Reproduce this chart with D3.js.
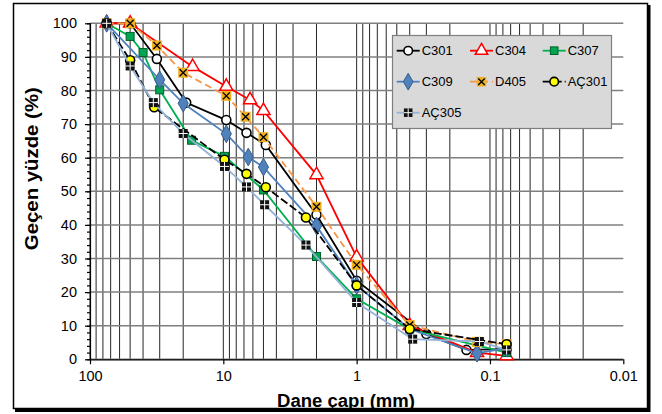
<!DOCTYPE html>
<html><head><meta charset="utf-8">
<script src="https://cdn.jsdelivr.net/npm/d3@7"></script>
<style>
body{margin:0;background:#fff;}
svg{display:block;font-family:"Liberation Sans",Arial,sans-serif;}
</style></head>
<body><svg id="chart" width="662" height="414"></svg>
<script>
// ---- data ----
const seriesNames = ["C301","C304","C307","C309","D405","AÇ301","AÇ305"];
const c301Size = [75,50,31.5,19,9.5,6.7,4.8,2,1,0.3,0.15,0.075];
const c301Pass = [100,100,89.4,76.4,71.2,67.4,63.8,43,23.4,7.5,2.8,3];
const c304Size = [75,50,17,9.5,6.3,5,2,1,0.4,0.125,0.075];
const c304Pass = [100,100,87.1,81.2,77.2,74,54.9,30.4,10,2,1];
const c307Size = [75,50,40,30,17.3,9.8,5,2,1,0.4,0.075];
const c307Pass = [100,96.1,91.3,80.2,65.2,60.4,50.4,30.6,18,9,2];
const c309Size = [75,30,20,9.5,6.5,5,2,1,0.4,0.125,0.075];
const c309Pass = [100,83.2,76.2,67.1,60.2,57.2,39.7,22,9,1.8,3.3];
const d405Size = [75,50,31.5,20,9.5,6.8,5,2,1,0.4,0.125,0.075];
const d405Pass = [100,100,93.4,85.3,78.4,72.2,66.1,45.4,28.1,10.2,5.2,4.5];
const ac301Size = [75,50,33,9.8,6.7,4.8,2.4,1,0.4,0.075];
const ac301Pass = [100,89,75,59.4,55.2,51.2,42.2,22,9,4.5];
const ac305Size = [75,50,33.5,20,9.8,6.7,4.9,2.4,1,0.38,0.12,0.075];
const ac305Pass = [100,87.3,76.4,67.2,57.4,51.3,46,34,16.9,6,5.3,2.8];
const xTickValues = [100,10,1,0.1,0.01];
const xTickLabels = ["100","10","1","0.1","0.01"];
const yTickValues = [0,10,20,30,40,50,60,70,80,90,100];
const xTitle = "Dane çapı (mm)";
const yTitle = "Geçen yüzde (%)";

// ---- styles ----
const styles = {
  "C301": {line:"#000000", dash:null, marker:"circle", fill:"#ffffff", stroke:"#000000"},
  "C304": {line:"#ff0000", dash:null, marker:"triangle", fill:"#ffffff", stroke:"#ff0000"},
  "C307": {line:"#00b050", dash:null, marker:"square", fill:"#00a651", stroke:"#00602b"},
  "C309": {line:"#4f81bd", dash:null, marker:"diamond", fill:"#4f81bd", stroke:"#385d8a"},
  "D405": {line:"#f79646", dash:"7,4", marker:"xsquare", fill:"#f0b020", stroke:"#000000"},
  "AÇ301": {line:"#000000", dash:"8,3", marker:"circle", fill:"#ffff00", stroke:"#000000"},
  "AÇ305": {line:"#95b3d7", dash:null, marker:"plussquare", fill:"#111111", stroke:"#ffffff"}
};
const sizes = [c301Size,c304Size,c307Size,c309Size,d405Size,ac301Size,ac305Size];
const passes = [c301Pass,c304Pass,c307Pass,c309Pass,d405Pass,ac301Pass,ac305Pass];
const series = seriesNames.map((n,i)=>({name:n, pts:sizes[i].map((s,j)=>({s, p:passes[i][j]}))}));

const svg = d3.select("#chart");
const x = d3.scaleLog().domain([100,0.01]).range([90,623.3]);
const y = d3.scaleLinear().domain([0,100]).range([359.3,23.3]);

// outer frame
svg.append("rect").attr("x",13.5).attr("y",3.5).attr("width",634).attr("height",405)
  .attr("fill","#fff").attr("stroke","#000").attr("stroke-width",1.5);
svg.append("path").attr("d","M649,5V410.5H15").attr("fill","none").attr("stroke","#000").attr("stroke-width",3);

// gridlines
const vgrid = [];
xTickValues.slice(0,4).forEach(d=>{ for(let k=10;k>=2;k--) vgrid.push(d*k/10); });
svg.append("g").selectAll("line").data(vgrid).join("line")
  .attr("x1",d=>x(d)).attr("x2",d=>x(d)).attr("y1",y(100)).attr("y2",y(0))
  .attr("stroke","#262626").attr("stroke-width",1);
svg.append("g").selectAll("line").data(yTickValues).join("line")
  .attr("x1",x(100)).attr("x2",x(0.01)).attr("y1",d=>y(d)).attr("y2",d=>y(d))
  .attr("stroke","#7f7f7f").attr("stroke-width",1.5);

// axes
const yMinor = d3.range(0,101,2);
const gyMin = svg.append("g").attr("transform",`translate(${x(100)},0)`)
  .call(d3.axisLeft(y).tickValues(yMinor).tickSize(3).tickFormat(""));
gyMin.select(".domain").remove();
const gy = svg.append("g").attr("transform",`translate(${x(100)},0)`)
  .call(d3.axisLeft(y).tickValues(yTickValues).tickSize(5).tickPadding(8).tickFormat(d3.format("d")));
const gx = svg.append("g").attr("transform",`translate(0,${y(0)})`)
  .call(d3.axisBottom(x).tickValues(xTickValues).tickSize(5).tickPadding(6).tickFormat((d,i)=>xTickLabels[i]));
[gy,gx,gyMin].forEach(g=>{
  g.selectAll("path,line").attr("stroke","#000").attr("stroke-width",1.2);
  g.selectAll("text").attr("font-size",14.5).attr("fill","#000").attr("font-family","Liberation Sans, Arial, sans-serif");
});
gx.select(".domain").attr("d",`M${x(100)},0.5H${x(0.01)}`);
gy.select(".domain").attr("d",`M0.5,${y(0)}V${y(100)}`);

// titles
svg.append("text").attr("x",346).attr("y",407).attr("text-anchor","middle")
  .attr("font-size",18).attr("font-weight","bold").attr("textLength",138).attr("lengthAdjust","spacingAndGlyphs").text(xTitle);
svg.append("text").attr("transform","translate(38,168.7) rotate(-90)").attr("text-anchor","middle")
  .attr("font-size",18).attr("font-weight","bold").attr("textLength",163).attr("lengthAdjust","spacingAndGlyphs").text(yTitle);

// marker drawing
function drawMarker(g, st, cx, cy, k){
  k = k||1;
  if(st.marker==="circle"){
    g.append("circle").attr("cx",cx).attr("cy",cy).attr("r",4.5*k).attr("fill",st.fill).attr("stroke",st.stroke).attr("stroke-width",1.6);
  } else if(st.marker==="triangle"){
    g.append("path").attr("transform",`translate(${cx},${cy})`).attr("d",d3.symbol(d3.symbolTriangle, 75*k*k)())
      .attr("fill",st.fill).attr("stroke",st.stroke).attr("stroke-width",1.5);
  } else if(st.marker==="square"){
    const s=8*k; g.append("rect").attr("x",cx-s/2).attr("y",cy-s/2).attr("width",s).attr("height",s)
      .attr("fill",st.fill).attr("stroke",st.stroke).attr("stroke-width",1);
  } else if(st.marker==="diamond"){
    g.append("path").attr("transform",`translate(${cx},${cy})`).attr("d",d3.symbol(d3.symbolDiamond, 90*k*k)())
      .attr("fill",st.fill).attr("stroke",st.stroke).attr("stroke-width",1);
  } else if(st.marker==="xsquare"){
    const s=10*k; g.append("rect").attr("x",cx-s/2).attr("y",cy-s/2).attr("width",s).attr("height",s).attr("fill",st.fill);
    const h=s/2-1.5;
    g.append("path").attr("d",`M${cx-h},${cy-h}L${cx+h},${cy+h}M${cx-h},${cy+h}L${cx+h},${cy-h}`).attr("stroke","#000").attr("stroke-width",1.3);
  } else if(st.marker==="plussquare"){
    const s=9*k; g.append("rect").attr("x",cx-s/2).attr("y",cy-s/2).attr("width",s).attr("height",s).attr("fill",st.fill);
    g.append("path").attr("d",`M${cx},${cy-s/2}V${cy+s/2}M${cx-s/2},${cy}H${cx+s/2}`).attr("stroke","#fff").attr("stroke-width",1);
  }
}

// series
const line = d3.line().x(d=>x(d.s)).y(d=>y(d.p));
series.forEach(sr=>{
  const st = styles[sr.name];
  const g = svg.append("g");
  g.append("path").datum(sr.pts).attr("d",line).attr("fill","none").attr("stroke",st.line)
    .attr("stroke-width",1.8).attr("stroke-dasharray",st.dash);
  sr.pts.forEach(d=>drawMarker(g, st, x(d.s), y(d.p)));
});

// legend
const lg = svg.append("g");
lg.append("rect").attr("x",392.5).attr("y",35.5).attr("width",219).attr("height",93)
  .attr("fill","#d9d9d9").attr("stroke","#7f7f7f").attr("stroke-width",1.2);
const colX = [396.7,470,542.7], rowY=[50.7,81.7,112.7];
seriesNames.forEach((n,i)=>{
  const st=styles[n]; const cx=colX[i%3], cy=rowY[Math.floor(i/3)];
  lg.append("line").attr("x1",cx).attr("x2",cx+23).attr("y1",cy).attr("y2",cy)
    .attr("stroke",st.line).attr("stroke-width",1.8).attr("stroke-dasharray",st.dash);
  drawMarker(lg, st, cx+11.5, cy, 0.95);
  lg.append("text").attr("x",cx+25).attr("y",cy+4.6).attr("font-size",13).attr("fill","#000").text(n);
});
</script></body></html>
